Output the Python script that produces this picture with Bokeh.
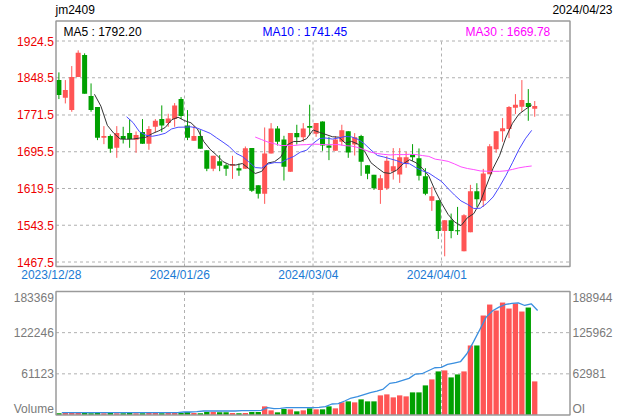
import numpy as np
import pandas as pd
from bokeh.plotting import figure
from bokeh.models import Range1d, Label, ColumnDataSource
from bokeh.embed import file_html
from bokeh.resources import INLINE

# ---------------- data ----------------
symbol = "jm2409"
last_date = "2024/04/23"
date_labels = ["2023/12/28", "2024/01/26", "2024/03/04", "2024/04/01"]
price_ticks = [1924.5, 1848.5, 1771.5, 1695.5, 1619.5, 1543.5, 1467.5]
vol_ticks = [183369, 122246, 61123]
oi_ticks = [188944, 125962, 62981]
ma_texts = ["MA5 : 1792.20", "MA10 : 1741.45", "MA30 : 1669.78"]

opens = [1843.7, 1807.2, 1781.6, 1850.0, 1895.5, 1810.6, 1787.8, 1724.3, 1727.8, 1703.6,
         1727.8, 1734.0, 1720.2, 1736.1, 1711.9, 1747.1, 1763.0, 1754.7, 1763.0, 1804.4,
         1749.9, 1718.1, 1727.8, 1698.8, 1660.1, 1676.0, 1667.7, 1666.4, 1661.5, 1660.1,
         1703.0, 1626.3, 1608.4, 1691.9, 1743.7, 1720.9, 1653.9, 1734.0, 1725.7, 1748.5,
         1732.6, 1758.2, 1708.5, 1697.4, 1716.0, 1738.1, 1710.5, 1727.8, 1667.7, 1647.7,
         1616.6, 1620.1, 1654.6, 1648.4, 1670.5, 1689.8, 1682.2, 1645.0, 1593.9, 1595.3,
         1531.8, 1553.9, 1533.1, 1489.6, 1529.0, 1613.9, 1593.9, 1649.1, 1700.9, 1738.1,
         1742.3, 1786.4, 1788.5, 1796.1, 1784.4]
highs = [1859.6, 1843.7, 1872.7, 1905.2, 1899.0, 1836.8, 1787.8, 1748.5, 1731.2, 1748.5,
         1747.1, 1763.0, 1737.4, 1763.0, 1748.5, 1763.0, 1791.3, 1774.0, 1796.1, 1808.5,
         1781.6, 1748.5, 1740.0, 1698.8, 1687.1, 1688.4, 1671.2, 1687.1, 1671.2, 1706.4,
         1703.0, 1626.3, 1745.7, 1754.7, 1748.5, 1728.5, 1734.0, 1751.3, 1754.7, 1792.7,
         1754.7, 1758.2, 1726.4, 1727.8, 1751.3, 1738.1, 1734.0, 1730.5, 1667.7, 1647.7,
         1647.7, 1686.4, 1703.0, 1703.0, 1695.3, 1711.2, 1702.3, 1661.5, 1622.9, 1595.3,
         1553.9, 1567.6, 1581.4, 1566.3, 1627.0, 1630.4, 1660.1, 1711.2, 1738.1, 1765.1,
         1789.9, 1814.7, 1843.7, 1825.1, 1800.3]
lows = [1804.4, 1795.4, 1778.2, 1850.0, 1815.5, 1778.2, 1719.5, 1711.2, 1693.3, 1682.9,
        1712.6, 1703.6, 1693.3, 1711.9, 1699.5, 1736.1, 1736.1, 1747.1, 1747.1, 1763.0,
        1719.5, 1718.1, 1701.6, 1655.3, 1655.3, 1655.3, 1645.6, 1639.4, 1645.6, 1660.1,
        1612.5, 1598.7, 1587.7, 1691.9, 1708.5, 1636.0, 1653.9, 1710.5, 1716.0, 1729.2,
        1726.4, 1697.4, 1678.1, 1697.4, 1708.5, 1682.9, 1687.7, 1645.6, 1638.7, 1616.6,
        1587.7, 1616.6, 1638.0, 1631.1, 1662.2, 1676.7, 1636.0, 1605.6, 1573.2, 1515.2,
        1479.3, 1516.6, 1523.5, 1489.6, 1529.0, 1581.4, 1581.4, 1649.1, 1693.3, 1716.1,
        1723.6, 1773.3, 1778.2, 1759.5, 1767.8]
closes = [1812.7, 1823.0, 1850.0, 1900.3, 1815.5, 1781.6, 1724.3, 1727.8, 1701.6, 1734.0,
          1721.6, 1721.6, 1729.9, 1711.9, 1742.3, 1759.5, 1749.9, 1764.4, 1791.3, 1769.2,
          1724.3, 1727.8, 1701.6, 1660.1, 1687.1, 1666.4, 1660.1, 1669.8, 1656.7, 1702.9,
          1614.6, 1608.4, 1691.9, 1743.7, 1716.0, 1664.3, 1734.0, 1725.7, 1743.7, 1745.0,
          1754.7, 1708.5, 1703.6, 1720.9, 1740.2, 1694.0, 1725.7, 1674.6, 1649.8, 1620.1,
          1640.8, 1676.7, 1665.7, 1684.3, 1684.3, 1684.3, 1645.6, 1608.4, 1603.5, 1531.8,
          1553.9, 1531.8, 1531.1, 1564.2, 1613.9, 1597.3, 1650.5, 1707.1, 1738.1, 1744.3,
          1787.8, 1792.7, 1802.3, 1787.8, 1789.9]
volumes = [2500, 2900, 3000, 2800, 2900, 2600, 2800, 2700, 2900, 2600,
           2700, 2800, 2600, 2700, 2900, 2800, 2600, 2900, 3000, 2800,
           4446, 2964, 2470, 4446, 4446, 3952, 3952, 2964, 2470, 2964,
           4446, 4446, 12844, 6916, 3952, 8892, 8398, 5434, 6916, 9880,
           8398, 8398, 12844, 9880, 18772, 20254, 18772, 23218, 20254, 20254,
           29146, 30628, 26182, 29146, 27664, 33592, 33592, 43966, 52858, 64714,
           66196, 55822, 60268, 64714, 103246, 103246, 147706, 164008, 155116, 166972,
           158080, 165490, 153634, 159562, 49894]
open_interest = [3560, 3560, 3560, 3560, 3560, 3560, 3560, 3560, 3560, 3560,
                 3560, 3560, 3560, 3560, 3560, 3560, 3560, 3560, 3560, 4580,
                 4580, 5100, 6110, 6110, 6110, 6110, 6110, 6110, 6620, 6620,
                 6620, 7130, 11200, 9680, 10190, 11200, 11200, 11200, 11200, 11200,
                 11710, 12730, 16810, 17320, 21390, 25970, 28010, 31070, 34120, 36670,
                 39730, 48380, 49910, 52970, 56020, 62640, 63150, 67740, 72320, 72830,
                 77410, 79450, 81490, 93710, 111540, 130380, 149730, 159410, 165010, 169090,
                 170620, 171640, 167560, 170110, 159920]

# ---------------- layout helpers (page pixels -> data) ----------------
W, H = 620, 420
PITCH = 6.43
C0 = 58.4
def xd(px):
    return (px - C0) / PITCH

P_PER_PX = (1924.5 - 1467.5) / (261.5 - 40.5)
def yd(py):
    return 1924.5 - (py - 40.5) * P_PER_PX

VOL_BOTTOM, VOL_TOP = 414.5, 291.0
def vd(py):
    return (VOL_BOTTOM - py) * vol_ticks[0] / (VOL_BOTTOM - VOL_TOP)
def od(py):
    return (VOL_BOTTOM - py) * oi_ticks[0] / (VOL_BOTTOM - VOL_TOP)

RED = "#ff5555"
GREEN = "#00a000"
BORDER = "#9a9a9a"
GRID = "#b0b0b0"
FONT = "Liberation Sans"

p = figure(width=W, height=H, output_backend="svg", toolbar_location=None,
           x_range=Range1d(xd(0), xd(W)),
           y_range=Range1d(yd(H), yd(0)),
           x_axis_type=None, y_axis_type=None,
           min_border_left=0, min_border_right=0,
           min_border_top=0, min_border_bottom=0)
p.extra_y_ranges = {"vol": Range1d(vd(H), vd(0)),
                    "oi": Range1d(od(H), od(0))}
p.xgrid.visible = False
p.ygrid.visible = False
p.outline_line_color = None
p.background_fill_color = "white"
p.border_fill_color = "white"

X0, X1 = xd(55.5), xd(569.5)
quarters = [X0 + k * (X1 - X0) / 4 for k in range(1, 4)]
main_top, main_bot = yd(20.5), yd(266)

# ---------- grids ----------
p.segment(x0=[X0] * len(price_ticks), x1=[X1] * len(price_ticks), y0=price_ticks, y1=price_ticks,
          line_color=GRID, line_dash="3 3", line_width=1)
p.segment(x0=quarters, x1=quarters, y0=[main_bot] * 3, y1=[price_ticks[0]] * 3,
          line_color=GRID, line_dash="3 3", line_width=1)
p.segment(x0=[X0] * 2, x1=[X1] * 2, y0=vol_ticks[1:], y1=vol_ticks[1:],
          line_color=GRID, line_dash="3 3", line_width=1, y_range_name="vol")
p.segment(x0=quarters, x1=quarters, y0=[0] * 3, y1=[vol_ticks[0]] * 3,
          line_color=GRID, line_dash="3 3", line_width=1, y_range_name="vol")

# ---------- candles ----------
idx = np.arange(len(closes))
o = np.array(opens); c = np.array(closes); h = np.array(highs); l = np.array(lows)
up = c >= o
colors = [RED if u else GREEN for u in up]
top = np.maximum(o, c)
bot = np.minimum(o, c)
top = np.where(top - bot < 1.5, bot + 1.5, top)
src = ColumnDataSource(dict(x=idx, high=h, low=l, top=top, bot=bot, color=colors,
                            vol=volumes))
p.segment(x0="x", x1="x", y0="low", y1="high", line_color="color", line_width=1, source=src)
p.vbar(x="x", width=0.78, top="top", bottom="bot", fill_color="color", line_color=None, source=src)

# ---------- moving averages ----------
cs = pd.Series(closes)
for n, col in [(5, "#333333"), (10, "#4a4aff"), (30, "#ff4dff")]:
    ma = cs.rolling(n).mean()
    start = n + 1
    p.line(x=idx[start:] - 0.47, y=ma.values[start:], line_color=col, line_width=1)

# ---------- volume & open interest ----------
p.vbar(x="x", width=0.83, top="vol", bottom=0, fill_color="color", line_color=None,
       source=src, y_range_name="vol")
p.line(x=idx + 0.45, y=open_interest, line_color="#3a8fe0", line_width=1.3, y_range_name="oi")

# ---------- boxes ----------
p.quad(left=[X0], right=[X1], bottom=[main_bot], top=[main_top], fill_color=None,
       line_color=BORDER, line_width=1.5)
p.quad(left=[X0], right=[X1], bottom=[0], top=[vol_ticks[0]], fill_color=None,
       line_color=BORDER, line_width=1.5, y_range_name="vol")

# ---------- texts ----------
def lab(x, y, text, color="black", align="left", baseline="middle", yr="default"):
    p.add_layout(Label(x=x, y=y, text=text, text_color=color, text_align=align,
                       text_baseline=baseline, text_font=FONT, text_font_size="12px",
                       y_range_name=yr))

lab(xd(55), yd(9.5), symbol)
lab(xd(612), yd(9.5), last_date, align="right")
ma_colors = ["black", "#0000ff", "#ff00ff"]
ma_x = [63, 262, 465]
for t, col, px in zip(ma_texts, ma_colors, ma_x):
    lab(xd(px), yd(31.5), t, color=col)
for v in price_ticks:
    lab(xd(53.3), v, f"{v:.1f}", color="#ee0000", align="right")
date_pos = [X0] + quarters
for d, xp in zip(date_labels, date_pos):
    lab(xp - 4.7 / PITCH, yd(274), d, color="#1a7ad4", align="center")

GRAY = "#7a7a7a"
lab(xd(53.3), vd(297), str(vol_ticks[0]), color=GRAY, align="right", yr="vol")
for v in vol_ticks[1:]:
    lab(xd(53.3), v, str(v), color=GRAY, align="right", yr="vol")
lab(xd(53.3), vd(408), "Volume", color=GRAY, align="right", yr="vol")
lab(xd(572), od(297), str(oi_ticks[0]), color=GRAY, yr="oi")
for v in oi_ticks[1:]:
    lab(xd(572), v, str(v), color=GRAY, yr="oi")
lab(xd(572), od(408), "OI", color=GRAY, yr="oi")

open("out.html", "w").write(file_html(p, INLINE))
